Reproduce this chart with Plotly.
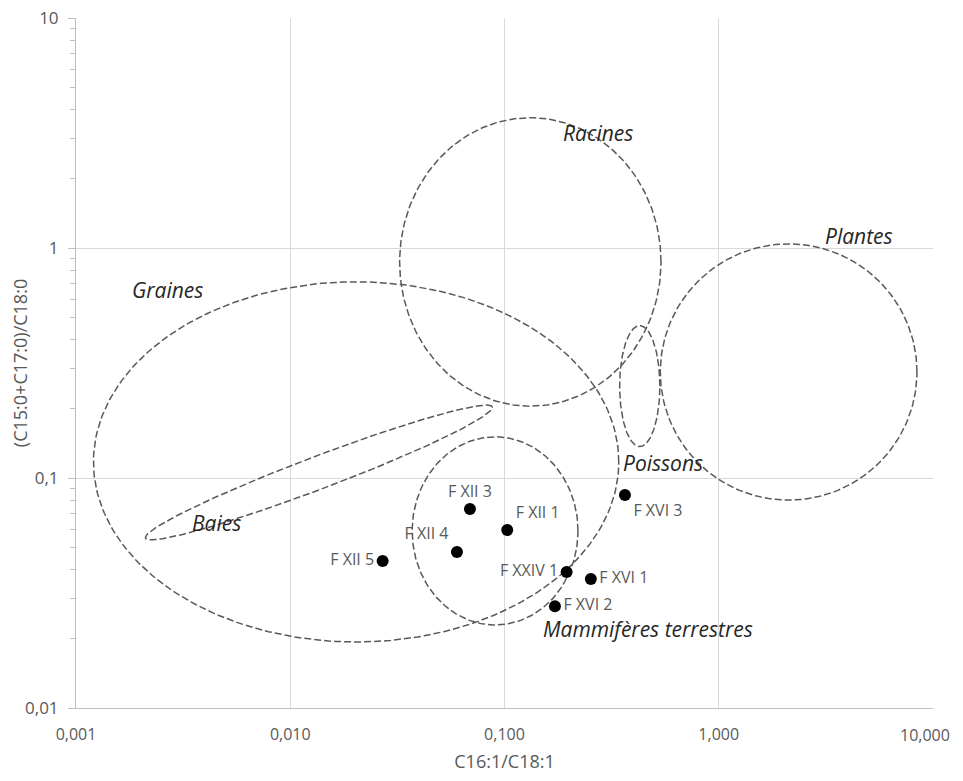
import numpy as np
import plotly.graph_objects as go

# Échantillons (C16:1/C18:1 ; (C15:0+C17:0)/C18:0)
samples = ["F XII 5", "F XII 4", "F XII 3", "F XII 1", "F XXIV 1", "F XVI 1", "F XVI 2", "F XVI 3"]
ratio_x = [0.027, 0.060, 0.069, 0.103, 0.195, 0.253, 0.172, 0.365]
ratio_y = [0.0436, 0.0477, 0.0733, 0.0594, 0.039, 0.0364, 0.0277, 0.0843]
label_pos = ["middle left", "top left", "top center", "top right",
             "middle left", "middle right", "middle right", "bottom right"]

# Domaines de référence : centre, demi-axes (en décades log10), rotation (degrés)
groups = ["Racines", "Plantes", "Poissons", "Mammifères terrestres", "Graines", "Baies"]
grp_cx = [0.132, 2.12, 0.428, 0.0904, 0.0203, 0.0136]
grp_cy = [0.87, 0.289, 0.251, 0.0589, 0.1175, 0.1057]
grp_ax = [0.61, 0.599, 0.094, 0.387, 1.226, 0.858]
grp_ay = [0.627, 0.557, 0.263, 0.409, 0.783, 0.072]
grp_rot = [0, 0, 0, 0, 0, 19.4]

# Positions des libellés de groupes (log10)
grp_lbl_x = [-0.564, 0.657, -0.261, -0.331, -2.573, -2.345]
grp_lbl_y = [0.5, 0.052, -0.935, -1.655, -0.183, -1.196]

x_ticks = [0.001, 0.01, 0.1, 1, 10]
x_ticktext = ["0,001", "0,010", "0,100", "1,000", "10,000"]
y_ticks = [0.01, 0.1, 1, 10]
y_ticktext = ["0,01", "0,1", "1", "10"]

FONT = "'Open Sans', Lato, sans-serif"
GREY = "#595959"

fig = go.Figure()

t = np.linspace(0, 2 * np.pi, 241)
for name, cx, cy, ax, ay, rot in zip(groups, grp_cx, grp_cy, grp_ax, grp_ay, grp_rot):
    th = np.radians(rot)
    lx = np.log10(cx) + ax * np.cos(t) * np.cos(th) - ay * np.sin(t) * np.sin(th)
    ly = np.log10(cy) + ax * np.cos(t) * np.sin(th) + ay * np.sin(t) * np.cos(th)
    fig.add_trace(go.Scatter(x=10 ** lx, y=10 ** ly, mode="lines", name=name,
                             line=dict(color="#595959", width=1.5, dash="7px,3px"),
                             hoverinfo="skip"))

fig.add_trace(go.Scatter(
    x=ratio_x, y=ratio_y, mode="markers+text", text=samples,
    textposition=label_pos,
    textfont=dict(family=FONT, size=16, color=GREY),
    marker=dict(color="black", size=12),
))

for name, lx, ly in zip(groups, grp_lbl_x, grp_lbl_y):
    fig.add_annotation(x=lx, y=ly, xref="x", yref="y", text="<i>" + name + "</i>",
                       showarrow=False, font=dict(family=FONT, size=21, color="#262626"))

# le dernier libellé de l'axe x déborderait de la fenêtre : on le place à la main, décalé
fig.add_annotation(x=np.log10(x_ticks[-1]), y=0, xref="x", yref="paper",
                   text=x_ticktext[-1], showarrow=False, yanchor="top",
                   xanchor="center", xshift=-8, yshift=-14,
                   font=dict(family=FONT, size=16, color=GREY))

# la page ajoute une marge de 8 px autour du graphique
fig.update_layout(
    width=947, height=765,
    margin=dict(l=68, r=22, t=10, b=65),
    plot_bgcolor="white", paper_bgcolor="white",
    showlegend=False,
    xaxis=dict(
        type="log", range=[-3, 1.0002], automargin=False,
        tickmode="array", tickvals=x_ticks, ticktext=x_ticktext[:-1] + [""],
        showgrid=True, gridcolor="#d9d9d9", gridwidth=1,
        showline=True, linecolor="#bfbfbf", linewidth=1,
        zeroline=False, ticks="", ticklabelstandoff=12,
        ticklabeloverflow="allow",
        tickfont=dict(family=FONT, size=16, color=GREY),
        title=dict(text="C16:1/C18:1", standoff=14,
                   font=dict(family=FONT, size=18, color=GREY)),
    ),
    yaxis=dict(
        type="log", range=[-2, 1.0002], automargin=False,
        tickmode="array", tickvals=y_ticks, ticktext=y_ticktext,
        showgrid=True, gridcolor="#d9d9d9", gridwidth=1,
        showline=True, linecolor="#bfbfbf", linewidth=1,
        zeroline=False, ticks="outside", ticklen=7, tickcolor="#bfbfbf",
        ticklabelstandoff=6, ticklabeloverflow="allow",
        minor=dict(ticks="outside", ticklen=5, tickcolor="#bfbfbf",
                   tickvals=[m * 10.0 ** e for e in range(-2, 1) for m in range(2, 10)]),
        tickfont=dict(family=FONT, size=17, color=GREY),
        title=dict(text="(C15:0+C17:0)/C18:0", standoff=2,
                   font=dict(family=FONT, size=18, color=GREY)),
    ),
)

fig.write_html("out.html")
